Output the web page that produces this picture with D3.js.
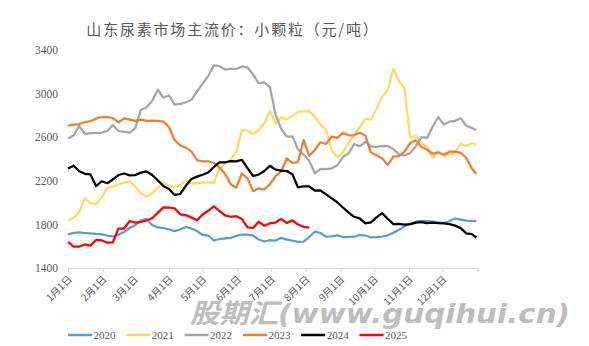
<!DOCTYPE html>
<html>
<head>
<meta charset="utf-8">
<script src="https://cdn.jsdelivr.net/npm/d3@7"></script>
<style>
  html, body { margin: 0; padding: 0; background: #fff; }
  svg { display: block; }
</style>
</head>
<body>
<svg id="chart" width="589" height="346"></svg>
<script>
// Sample dates (month-day), shared by every year
const dates = [
  "01-01","01-06","01-11","01-16","01-21","01-26","01-31","02-05","02-10","02-15",
  "02-20","02-25","03-02","03-07","03-12","03-17","03-22","03-27","04-01","04-06",
  "04-11","04-16","04-21","04-26","05-01","05-06","05-11","05-16","05-21","05-26",
  "05-31","06-05","06-10","06-15","06-20","06-25","06-30","07-05","07-10","07-15",
  "07-20","07-25","07-30","08-04","08-09","08-14","08-19","08-24","08-29","09-03",
  "09-08","09-13","09-18","09-23","09-28","10-03","10-08","10-13","10-18","10-23",
  "10-28","11-02","11-07","11-12","11-17","11-22","11-27","12-02","12-07","12-12",
  "12-17","12-22","12-27","12-31"
];

// 山东小颗粒尿素主流价（元/吨）
const price2020 = [
  1709,1723,1726,1721,1717,1712,1709,1698,1689,1707,
  1730,1767,1794,1836,1850,1794,1772,1767,1753,1739,
  1753,1776,1762,1739,1703,1698,1652,1666,1671,1677,
  1694,1707,1707,1698,1661,1643,1655,1652,1677,1661,
  1652,1639,1643,1684,1733,1721,1687,1691,1700,1684,
  1683,1687,1703,1698,1680,1683,1689,1700,1724,1750,
  1783,1804,1825,1832,1831,1825,1819,1813,1831,1854,
  1844,1834,1832,1831
];
const price2021 = [
  1836,1859,1914,2042,1996,1987,2047,2134,2148,2166,
  2184,2194,2148,2083,2056,2085,2134,2184,2152,2145,
  2161,2203,2177,2177,2186,2186,2184,2308,2356,2395,
  2464,2666,2661,2629,2666,2730,2843,2726,2783,2764,
  2794,2833,2838,2840,2788,2715,2670,2483,2415,2465,
  2544,2622,2689,2767,2762,2859,2971,3030,3226,3116,
  3047,2596,2611,2547,2510,2409,2469,2426,2437,2464,
  2538,2519,2547,2533
];
const price2022 = [
  2588,2616,2703,2631,2638,2638,2642,2657,2712,2657,
  2648,2641,2684,2850,2874,2932,3035,2964,2983,2899,
  2905,2920,2941,3022,3090,3163,3258,3253,3221,3226,
  3226,3249,3239,3175,3095,3103,3060,2808,2677,2606,
  2608,2490,2440,2383,2269,2309,2308,2315,2342,2418,
  2452,2538,2516,2557,2516,2510,2521,2519,2490,2443,
  2432,2455,2515,2600,2593,2696,2785,2716,2742,2750,
  2773,2705,2684,2666
];
const price2023 = [
  2705,2716,2721,2737,2747,2770,2785,2785,2776,2735,
  2772,2762,2749,2762,2750,2752,2750,2743,2694,2574,
  2524,2504,2470,2390,2378,2379,2363,2322,2264,2168,
  2137,2267,2221,2105,2131,2120,2169,2243,2285,2405,
  2365,2372,2574,2429,2483,2554,2538,2605,2594,2638,
  2620,2617,2641,2615,2459,2434,2406,2345,2422,2427,
  2467,2546,2571,2511,2487,2448,2460,2439,2467,2467,
  2457,2409,2313,2262
];
const price2024 = [
  2313,2338,2287,2264,2259,2152,2196,2178,2212,2253,
  2267,2250,2253,2275,2286,2253,2205,2152,2125,2070,
  2079,2154,2216,2238,2256,2276,2327,2368,2370,2380,
  2378,2393,2317,2243,2258,2290,2338,2302,2293,2289,
  2260,2140,2150,2149,2111,2112,2075,2039,2003,1955,
  1911,1870,1856,1809,1818,1864,1903,1851,1802,1804,
  1798,1802,1817,1820,1811,1816,1811,1810,1803,1789,
  1766,1718,1710,1680
];
const price2025 = [
  1639,1597,1596,1616,1605,1657,1654,1632,1635,1762,
  1762,1831,1816,1822,1836,1856,1906,1956,1955,1948,
  1893,1886,1862,1838,1891,1925,1966,1923,1883,1870,
  1875,1850,1772,1767,1824,1788,1810,1817,1851,1813,
  1837,1799,1778,1770
];

const years = ["2020","2021","2022","2023","2024","2025"];
const colors = ["#5B9BD5","#FFD966","#A5A5A5","#ED7D31","#000000","#FF0000"];
const seriesValues = [price2020, price2021, price2022, price2023, price2024, price2025];
const yTicks = [1400, 1800, 2200, 2600, 3000, 3400];

const svg = d3.select("#chart");
const parse = d3.timeParse("%Y-%m-%d");
const baseYear = 2021;
const dateObjs = dates.map(d => parse(baseYear + "-" + d));

const x = d3.scaleTime()
  .domain([new Date(baseYear, 0, 1), new Date(baseYear + 1, 0, 1)])
  .range([68, 477.5]);
const y = d3.scaleLinear().domain([1400, 3400]).range([268, 50]);

const textColor = "#595959";

// Title
svg.append("text")
  .attr("x", 233).attr("y", 35)
  .attr("text-anchor", "middle")
  .attr("fill", textColor)
  .attr("font-family", "'Noto Sans CJK SC', sans-serif")
  .attr("font-size", 15)
  .attr("letter-spacing", 1.8)
  .text("山东尿素市场主流价：小颗粒（元/吨）");

// Y axis labels (no axis line, no grid)
const yAxis = d3.axisLeft(y).tickValues(yTicks).tickSize(0).tickPadding(0)
  .tickFormat(d3.format("d"));
const gy = svg.append("g").attr("transform", "translate(58,0)").call(yAxis);
gy.select(".domain").remove();
gy.selectAll("text")
  .attr("fill", textColor)
  .attr("font-family", "'Liberation Serif', serif")
  .attr("font-size", 11.5);

// X axis: month starts
const monthTicks = d3.timeMonth.range(new Date(baseYear, 0, 1), new Date(baseYear + 1, 0, 2));
const xAxis = d3.axisBottom(x)
  .tickValues(monthTicks)
  .tickSize(4)
  .tickFormat(d => (d.getMonth() + 1) + "月" + d.getDate() + "日");
const gx = svg.append("g").attr("transform", "translate(0,268)").call(xAxis);
gx.select(".domain").attr("stroke", "#d9d9d9");
gx.selectAll(".tick line").attr("stroke", "#d9d9d9");
gx.selectAll(".tick").filter(d => d.getFullYear() > baseYear).select("text").remove();
gx.selectAll(".tick text")
  .attr("fill", textColor)
  .attr("font-family", "'Noto Sans CJK SC', sans-serif")
  .attr("font-size", 10)
  .attr("text-anchor", "end")
  .attr("dy", null)
  .attr("y", 0)
  .attr("transform", "translate(4,12) rotate(-45)");

// Series lines
const line = d3.line()
  .x((d, i) => x(dateObjs[i]))
  .y(d => y(d));

seriesValues.forEach((vals, k) => {
  svg.append("path")
    .datum(vals)
    .attr("fill", "none")
    .attr("stroke", colors[k])
    .attr("stroke-width", 2.25)
    .attr("stroke-linejoin", "round")
    .attr("d", line);
});

// Legend
const legend = svg.append("g").attr("transform", "translate(68,335)");
years.forEach((yr, k) => {
  const g = legend.append("g").attr("transform", `translate(${k * 58.3},0)`);
  g.append("line")
    .attr("x1", 0).attr("x2", 24)
    .attr("stroke", colors[k]).attr("stroke-width", 2.5);
  g.append("text")
    .attr("x", 25.5).attr("y", 4)
    .attr("fill", textColor)
    .attr("font-family", "'Liberation Serif', serif")
    .attr("font-size", 11)
    .text(yr);
});

// Site watermark
svg.append("text")
  .attr("x", 190).attr("y", 323)
  .attr("fill", "#bdbdbd")
  .attr("font-family", "'DejaVu Sans', 'Noto Sans CJK SC', sans-serif")
  .attr("font-weight", "bold")
  .attr("font-style", "italic")
  .attr("font-size", 27)
  .attr("textLength", 380)
  .attr("lengthAdjust", "spacingAndGlyphs")
  .text("股期汇(www.guqihui.cn)");
</script>
</body>
</html>
